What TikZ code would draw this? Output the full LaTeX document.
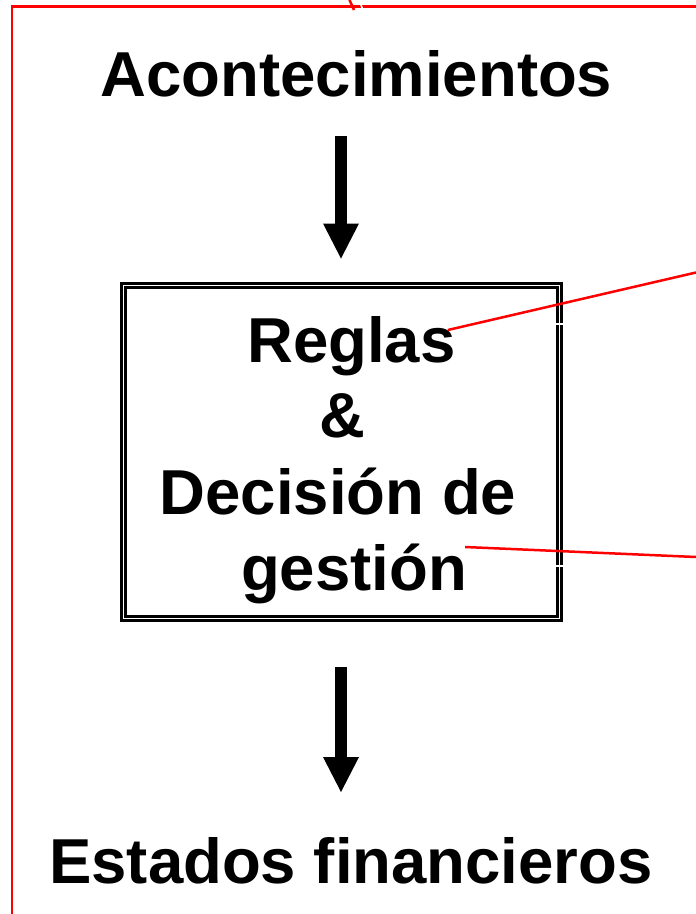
\documentclass[tikz,border=0pt]{standalone}
\usepackage{fontspec}
\setmainfont{Liberation Sans}
\usetikzlibrary{arrows.meta}
\begin{document}
\begin{tikzpicture}[x=1pt,y=-1pt,
  big/.style={font=\fontsize{63.5}{76}\selectfont\bfseries, inner sep=0pt, anchor=base},
  redline/.style={draw=red, line width=2.5pt},
  blockarrow/.style={line width=11.7pt, line cap=butt, -{Triangle[width=36pt,length=35pt,line width=0pt]}},
  gapline/.style={draw=white, line width=1.6pt}]
\useasboundingbox (0,0) rectangle (696,914);
\fill[white] (0,0) rectangle (696,914);
% red frame
\draw[redline] (12,914) -- (12,6.5) -- (696,6.5);
\draw[redline] (349.5,0) -- (354,10);
\draw[gapline] (361,5) -- (363,10);
% titles
\node[big] (top) at (356.5,96) {Acontecimientos};
\node[big] (bot) at (351,883) {Estados financieros};
% box
\node[draw, double, line width=2.8pt, double distance=1.6pt, minimum width=436pt,
      minimum height=333pt, inner sep=0pt] (box) at (341.5,452) {};
\node[big] (l1) at (351.5,362) {Reglas};
\node[big] (l2) at (342,437) {\&};
\node[big] (l3) at (338,514) {Decisión de};
\node[big] (l4) at (354,590) {gestión};
% gaps in the right border
\draw[gapline] (554,324) -- (566,324);
\draw[gapline] (554,566) -- (566,566);
% arrows
\coordinate (a1s) at (341,136);
\coordinate (a1e) at (341,258.5);
\coordinate (a2s) at (341,667);
\coordinate (a2e) at (341,792);
\draw[blockarrow] (a1s) -- (a1e);
\draw[blockarrow] (a2s) -- (a2e);
% red callout lines
\coordinate (r1) at (696,272.5);
\coordinate (r2) at (696,557);
\draw[redline] ([xshift=-8pt,yshift=32pt]l1.base east) -- (r1);
\draw[redline] ([xshift=-2pt,yshift=43pt]l4.base east) -- (r2);
\end{tikzpicture}
\end{document}
